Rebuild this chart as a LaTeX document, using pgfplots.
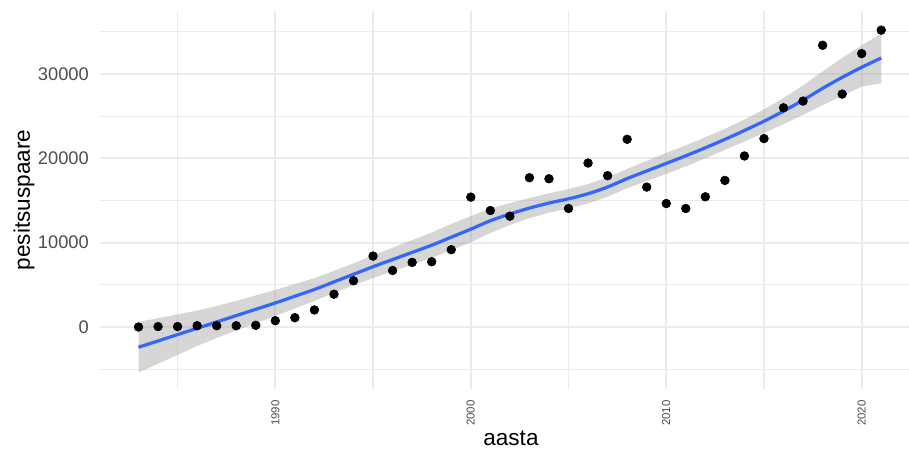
\documentclass[border=0pt]{standalone}
\usepackage{pgfplots}
\pgfplotsset{compat=1.18}
\usepackage{pgfplotstable}
\usepgfplotslibrary{fillbetween}
\usepackage{fontspec}
\setmainfont{Liberation Sans}
\definecolor{gridc}{HTML}{EBEBEB}
\definecolor{tickc}{HTML}{4D4D4D}
\definecolor{smooth}{HTML}{3366FF}
\definecolor{bandc}{HTML}{999999}

\pgfplotstableread{
year pairs
1983 0
1984 50
1985 50
1986 150
1987 150
1988 150
1989 200
1990 750
1991 1100
1992 2020
1993 3890
1994 5480
1995 8410
1996 6700
1997 7660
1998 7740
1999 9170
2000 15400
2001 13810
2002 13140
2003 17700
2004 17580
2005 14050
2006 19440
2007 17940
2008 22260
2009 16590
2010 14640
2011 14050
2012 15440
2013 17380
2014 20280
2015 22340
2016 25990
2017 26790
2018 33410
2019 27620
2020 32420
2021 35200
}\pointdata

\pgfplotstableread{
year fit lo hi
1983 -2400 -5400 600
1984 -1650 -4350 1050
1985 -900 -3300 1500
1986 -150 -2250 1950
1987 600 -1300 2500
1988 1350 -400 3100
1989 2100 450 3750
1990 2850 1300 4400
1991 3650 2200 5100
1992 4450 3100 5800
1993 5350 4050 6650
1994 6250 4950 7550
1995 7150 5800 8500
1996 8000 6600 9400
1997 8850 7400 10300
1998 9700 8200 11200
1999 10650 9100 12200
2000 11600 10050 13150
2001 12600 11150 14050
2002 13400 12100 14700
2003 14100 12900 15300
2004 14700 13550 15850
2005 15200 14050 16350
2006 15800 14650 16950
2007 16600 15450 17750
2008 17600 16450 18750
2009 18500 17300 19700
2010 19400 18150 20650
2011 20300 19050 21550
2012 21250 20000 22500
2013 22250 21000 23500
2014 23300 22000 24600
2015 24400 23000 25800
2016 25600 24050 27150
2017 26900 25150 28650
2018 28300 26300 30300
2019 29600 27400 31900
2020 30800 28500 33400
2021 31900 28900 34800
}\smoothdata

\begin{document}
\begin{tikzpicture}
\begin{axis}[
  at={(0pt,0pt)}, anchor=south west,
  scale only axis,
  width=606.75pt, height=283.5pt,
  xmin=1981.03, xmax=2022.42,
  ymin=-7352, ymax=37470,
  scaled y ticks=false, scaled x ticks=false,
  axis line style={draw=none},
  tick style={draw=none},
  major tick length=0pt, minor tick length=0pt,
  xtick={1990,2000,2010,2020},
  minor xtick={1985,1995,2005,2015},
  ytick={0,10000,20000,30000},
  minor ytick={-5000,5000,15000,25000,35000},
  grid=both,
  major grid style={draw=gridc, line width=1.5pt},
  minor grid style={draw=gridc, line width=0.9pt},
  /pgf/number format/assume math mode=true,
  /pgf/number format/1000 sep={},
  xticklabel style={font=\fontsize{8.6}{10}\selectfont, text=tickc, inner sep=0pt, yshift=-8.25pt, rotate=90, anchor=east},
  yticklabel style={font=\fontsize{13.7}{16}\selectfont, text=tickc, inner sep=0pt, xshift=-8.25pt, anchor=east},
  xlabel={aasta},
  ylabel={pesitsuspaare},
  every axis x label/.style={at={(axis description cs:0.508,0)}, anchor=center, yshift=-37pt, font=\fontsize{16.9}{20}\selectfont},
  every axis y label/.style={at={(axis description cs:-0.0939,0.5)}, rotate=90, anchor=center, font=\fontsize{16.9}{20}\selectfont},
]
\addplot[name path=hi, draw=none, forget plot] table[x=year, y=hi] {\smoothdata};
\addplot[name path=lo, draw=none, forget plot] table[x=year, y=lo] {\smoothdata};
\addplot[fill=bandc, fill opacity=0.4, draw=none] fill between[of=hi and lo];
\addplot[smooth, color=smooth, line width=2.4pt, no marks] table[x=year, y=fit] {\smoothdata};
\addplot[only marks, mark=*, mark size=3.3pt, black] table[x=year, y=pairs] {\pointdata};
\end{axis}
\pgfresetboundingbox
\path[use as bounding box] (-75pt,-48.75pt) rectangle (606.75pt,291.75pt);
\end{tikzpicture}
\end{document}
